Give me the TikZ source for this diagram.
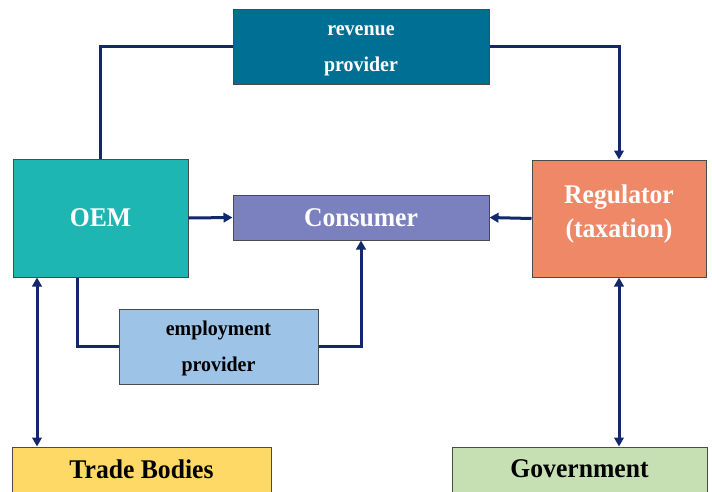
\documentclass[tikz,border=0pt]{standalone}
\usepackage{fontspec}
\setmainfont{Liberation Serif}[FakeStretch=0.95]
\usetikzlibrary{arrows.meta}

\definecolor{linkblue}{HTML}{12276C}
\definecolor{boxedge}{HTML}{4A4A4A}
\definecolor{revfill}{HTML}{006F94}
\definecolor{oemfill}{HTML}{1DB6B3}
\definecolor{consfill}{HTML}{7B80BF}
\definecolor{regfill}{HTML}{EF8866}
\definecolor{empfill}{HTML}{9DC3E6}
\definecolor{tradefill}{HTML}{FFD966}
\definecolor{govfill}{HTML}{C6E0B4}

\tikzset{
  box/.style={draw=boxedge, line width=1pt, rectangle, inner sep=0pt},
  caption/.style={inner sep=0pt, align=center},
  bigtext/.style={font=\fontsize{27}{34}\selectfont\bfseries},
  smalltext/.style={font=\fontsize{21}{36}\selectfont\bfseries},
  link/.style={draw=linkblue, line width=3pt},
  tip/.style={-{Triangle[length=9pt,width=9.5pt]}},
  twotip/.style={{Triangle[length=9pt,width=9.5pt]}-{Triangle[length=9pt,width=9.5pt]}},
}

\begin{document}
\begin{tikzpicture}[x=1pt, y=-1pt]
  \clip (0,0) rectangle (712,491);
  \fill[white] (0,0) rectangle (712,491);

  % boxes
  \node[box, fill=revfill, minimum width=256, minimum height=75] (rev) at (361,46.5) {};
  \node[box, fill=oemfill, minimum width=175, minimum height=118] (oem) at (100.5,218) {};
  \node[box, fill=consfill, minimum width=256, minimum height=45] (cons) at (361,217.5) {};
  \node[box, fill=regfill, minimum width=174, minimum height=117] (reg) at (619,218.5) {};
  \node[box, fill=empfill, minimum width=199, minimum height=75] (emp) at (218.5,346.5) {};
  \node[box, fill=tradefill, minimum width=259, minimum height=56] (trade) at (141.5,475) {};
  \node[box, fill=govfill, minimum width=255, minimum height=56] (gov) at (579.5,475) {};

  % box captions
  \node[caption, smalltext, text=white] (revtext) at ([yshift=-4pt]rev.center) {revenue\\provider};
  \node[caption, bigtext, text=white] (oemtext) at (oem.center) {OEM};
  \node[caption, bigtext, text=white] (constext) at (cons.center) {Consumer};
  \node[caption, bigtext, text=white] (regtext) at ([yshift=5pt]reg.center) {Regulator\\(taxation)};
  \node[caption, smalltext, text=black] (emptext) at ([yshift=-1.5pt]emp.center) {employment\\provider};
  \node[caption, bigtext, text=black] (tradetext) at ([yshift=6pt]trade.center) {Trade Bodies};
  \node[caption, bigtext, text=black] (govtext) at ([yshift=6pt]gov.center) {Government};

  % auxiliary points on the bottom of the OEM box
  \coordinate (oemA) at ([xshift=-63.5pt]oem.south);
  \coordinate (oemB) at ([xshift=-23.5pt]oem.south);

  % connectors
  \draw[link] (oem.north) |- (rev.west);
  \draw[link, tip] (rev.east) -| (reg.north);
  \draw[link, tip] (oem.east) -- (cons.west);
  \draw[link, tip] (reg.west) -- (cons.east);
  \draw[link] (oemB) |- (emp.west);
  \draw[link, tip] (emp.east) -| (cons.south);
  \draw[link, twotip] (oemA) -- (oemA |- trade.north);
  \draw[link, twotip] (reg.south) -- (reg.south |- gov.north);
\end{tikzpicture}
\end{document}
